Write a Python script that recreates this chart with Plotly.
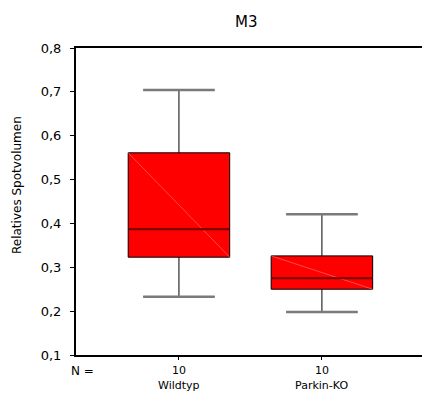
import plotly.graph_objects as go

categories = ["Wildtyp", "Parkin-KO"]
n_values = [10, 10]
y_min = [0.233, 0.198]
y_q1 = [0.323, 0.250]
y_median = [0.387, 0.275]
y_q3 = [0.561, 0.326]
y_max = [0.704, 0.421]
y_ticks = [0.1, 0.2, 0.3, 0.4, 0.5, 0.6, 0.7, 0.8]

xpos = list(range(len(categories)))
box_w = 0.71
cap_half = 0.25
font = "DejaVu Sans"
PL, PW, PB, PH = 76, 346, 355, 307


def py(ypix):
    return (PB - ypix) / PH


fig = go.Figure()
fig.add_trace(go.Box(
    x=xpos, q1=y_q1, median=y_median, q3=y_q3,
    lowerfence=y_min, upperfence=y_max,
    width=box_w, whiskerwidth=0.7,
    fillcolor="#ff0000", line=dict(color="#000000", width=1),
    boxpoints=False, hoverinfo="skip", showlegend=False,
))
# faint diagonal artifacts inside boxes
for i, x in enumerate(xpos):
    fig.add_trace(go.Scatter(
        x=[x - box_w / 2, x + box_w / 2], y=[y_q3[i], y_q1[i]],
        mode="lines", line=dict(color="rgba(255,120,120,0.6)", width=1),
        hoverinfo="skip", showlegend=False,
    ))
# gray whisker caps and median redraw
for i, x in enumerate(xpos):
    for v in (y_min[i], y_max[i]):
        fig.add_trace(go.Scatter(
            x=[x - cap_half, x + cap_half], y=[v, v],
            mode="lines", line=dict(color="#7a7a7a", width=2.5),
            hoverinfo="skip", showlegend=False,
        ))
    fig.add_trace(go.Scatter(
        x=[x - box_w / 2, x + box_w / 2], y=[y_median[i], y_median[i]],
        mode="lines", line=dict(color="#7a0000", width=2),
        hoverinfo="skip", showlegend=False,
    ))

annotations = []
for i, x in enumerate(xpos):
    annotations.append(dict(x=x, y=py(370.5), xref="x", yref="paper", text=str(n_values[i]),
                            showarrow=False, yanchor="middle", font=dict(family=font, size=11, color="#000")))
    annotations.append(dict(x=x, y=py(385), xref="x", yref="paper", text=categories[i],
                            showarrow=False, yanchor="middle", font=dict(family=font, size=11, color="#000")))
annotations.append(dict(x=(82 - PL) / PW, y=py(370.5), xref="paper", yref="paper", text="N =",
                        showarrow=False, yanchor="middle", xanchor="center", font=dict(family=font, size=12, color="#000")))
annotations.append(dict(x=(17 - PL) / PW, y=py(185), xref="paper", yref="paper",
                        text="Relatives Spotvolumen", textangle=-90, showarrow=False,
                        xanchor="center", yanchor="middle",
                        font=dict(family=font, size=12, color="#000")))
annotations.append(dict(x=(246 - PL) / PW, y=py(22), xref="paper", yref="paper",
                        text="M3", showarrow=False, yanchor="middle", xanchor="center",
                        font=dict(family=font, size=15, color="#000")))

fig.update_layout(
    width=422, height=404,
    margin=dict(l=PL, r=0, t=48, b=49),
    paper_bgcolor="white", plot_bgcolor="white",
    separators=", ",
    annotations=annotations,
    xaxis=dict(range=[-0.72, 1.70], tickvals=xpos, ticktext=["", ""],
               showgrid=False, zeroline=False, showline=True, linecolor="#000", linewidth=2,
               mirror=True, ticks="outside", ticklen=3, tickcolor="#000"),
    yaxis=dict(range=[0.1, 0.8], tickvals=y_ticks, tickformat=".1f",
               showgrid=False, zeroline=False, showline=True, linecolor="#000", linewidth=2,
               mirror=False, ticks="outside", ticklen=4, tickcolor="#000",
               ticklabelstandoff=6,
               tickfont=dict(family=font, size=13, color="#000")),
)
fig.write_html("out.html")
